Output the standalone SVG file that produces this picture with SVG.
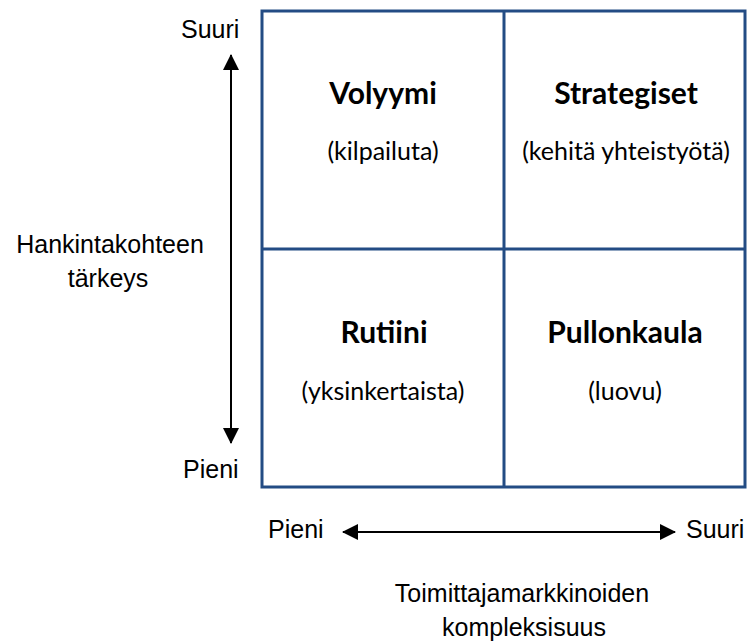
<svg xmlns="http://www.w3.org/2000/svg" width="747" height="642" viewBox="0 0 747 642">
  <defs>
    <style>
      .grid { fill: none; stroke: #234C84; stroke-width: 3; }
      .axis { stroke: #000; stroke-width: 2; fill: none; }
      .lbl { font-family: "Liberation Sans", Arial, sans-serif; font-size: 25px; fill: #000; }
      .title { font-family: Lato, "Open Sans", sans-serif; font-weight: bold; font-size: 30px; fill: #000; text-anchor: middle; }
      .sub { font-family: Lato, "Open Sans", sans-serif; font-size: 25px; fill: #000; text-anchor: middle; }
    </style>
    <marker id="ah" viewBox="0 0 16 16" refX="15" refY="8" markerWidth="16" markerHeight="16" markerUnits="userSpaceOnUse" orient="auto-start-reverse">
      <path d="M0,0 L16,8 L0,16 Z" fill="#000"/>
    </marker>
  </defs>
  <rect width="747" height="642" fill="#fff"/>

  <g id="connectors">
    <line class="axis" x1="231" y1="55" x2="231" y2="443" marker-start="url(#ah)" marker-end="url(#ah)"/>
    <line class="axis" x1="343" y1="532" x2="675" y2="532" marker-start="url(#ah)" marker-end="url(#ah)"/>
  </g>

  <g id="grid">
    <rect class="grid" x="262" y="11" width="483" height="476"/>
    <line class="grid" x1="504" y1="11" x2="504" y2="487"/>
    <line class="grid" x1="262" y1="249" x2="745" y2="249"/>
  </g>

  <g id="volyymi">
    <text class="title" x="383" y="104">Volyymi</text>
    <text class="sub" x="383" y="160">(kilpailuta)</text>
  </g>
  <g id="strategiset">
    <text class="title" x="626" y="104">Strategiset</text>
    <text class="sub" x="626" y="160">(kehitä yhteistyötä)</text>
  </g>
  <g id="rutiini">
    <text class="title" x="384" y="343">Rutiini</text>
    <text class="sub" x="383" y="400">(yksinkertaista)</text>
  </g>
  <g id="pullonkaula">
    <text class="title" x="625" y="343">Pullonkaula</text>
    <text class="sub" x="625" y="400">(luovu)</text>
  </g>

  <g id="y-axis-labels">
    <text class="lbl" x="181" y="38">Suuri</text>
    <text class="lbl" x="110" y="253" text-anchor="middle" font-size="26">Hankintakohteen</text>
    <text class="lbl" x="108" y="287" text-anchor="middle" font-size="26">tärkeys</text>
    <text class="lbl" x="183" y="478">Pieni</text>
  </g>
  <g id="x-axis-labels">
    <text class="lbl" x="268" y="538">Pieni</text>
    <text class="lbl" x="686" y="538">Suuri</text>
    <text class="lbl" x="522" y="602" text-anchor="middle">Toimittajamarkkinoiden</text>
    <text class="lbl" x="524" y="636" text-anchor="middle">kompleksisuus</text>
  </g>
</svg>
